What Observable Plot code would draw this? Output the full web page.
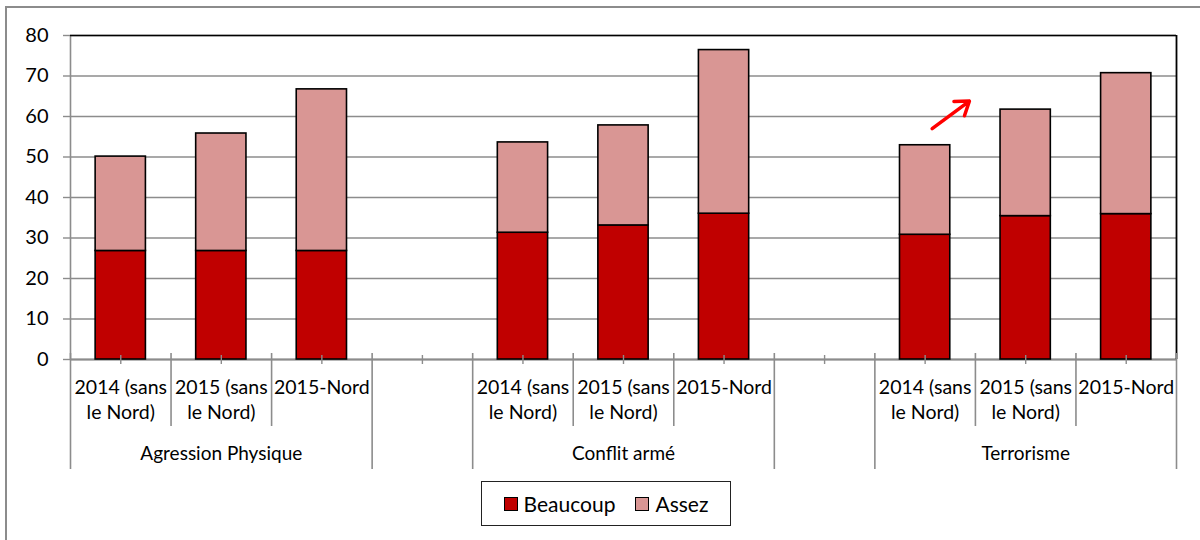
<!DOCTYPE html>
<html>
<head>
<meta charset="utf-8">
<script src="https://cdn.jsdelivr.net/npm/d3@7"></script>
<script src="https://cdn.jsdelivr.net/npm/@observablehq/plot@0.6"></script>
<style>
  html, body { margin: 0; padding: 0; background: #fff; overflow: hidden; }
  body { width: 1200px; height: 540px; position: relative; font-family: Lato, "Open Sans", sans-serif; }
  #outer { position: absolute; left: 5px; top: 6px; width: 1300px; height: 700px;
           border-left: 2px solid #8c8c8c; border-top: 2px solid #8c8c8c; }
  #chart { position: absolute; left: 0; top: 0; }
  #legend { position: absolute; left: 481px; top: 481px; width: 248px; height: 43px;
            border: 1.5px solid #222; background: #fff; display: flex; align-items: center;
            justify-content: center; gap: 20px; font-size: 21px; color: #000; }
  .item { display: flex; align-items: center; gap: 6px; }
  .sw { width: 14px; height: 14px; border: 1.5px solid #000; box-sizing: border-box; display: inline-block; }
</style>
</head>
<body>
<div id="outer"></div>
<div id="chart"></div>
<div id="legend"></div>
<script>
// ---- data ----
const groups = ["Agression Physique", "Conflit armé", "Terrorisme"];
const periodLabels = ["2014 (sans\nle Nord)", "2015 (sans\nle Nord)", "2015-Nord"];
const series = ["Beaucoup", "Assez"];
const beaucoup = [26.8, 26.8, 26.8, 31.3, 33.1, 36.0, 30.8, 35.4, 35.9];
const assez    = [23.3, 29.0, 39.9, 22.3, 24.7, 40.4, 22.1, 26.3, 34.8];
const yTicks = [0, 10, 20, 30, 40, 50, 60, 70, 80];
const colors = ["#C00000", "#D99694"];
// trend arrow annotation (in data units: slot index, value)
const arrowAnno = [{x1: 8.07, y1: 57.0, x2: 8.44, y2: 63.8}];

// ---- derived layout tables ----
const slotsPerGroup = periodLabels.length + 1; // one blank slot between groups
const nSlots = groups.length * slotsPerGroup - 1;
const rows = [];
const periodRows = [];
groups.forEach((g, gi) => {
  periodLabels.forEach((p, pi) => {
    const k = gi * periodLabels.length + pi;
    const slot = gi * slotsPerGroup + pi;
    rows.push({slot, serie: series[0], y1: 0, y2: beaucoup[k]});
    rows.push({slot, serie: series[1], y1: beaucoup[k], y2: beaucoup[k] + assez[k]});
    periodRows.push({slot, label: p});
  });
});
const groupRows = groups.map((g, gi) => ({slot: gi * slotsPerGroup + (periodLabels.length - 1) / 2, label: g}));
const centers = d3.range(nSlots);
const groupEdges = [];
const innerEdges = [];
for (let s = 0; s <= nSlots; s++) {
  const pos = s % slotsPerGroup;
  if (pos === 0 || pos === periodLabels.length || s === nSlots) groupEdges.push(s - 0.5);
  else innerEdges.push(s - 0.5);
}
const xDomain = [-0.5, nSlots - 0.5];

const gray = "#8c8c8c";
const chart = Plot.plot({
  width: 1200,
  height: 480,
  marginTop: 35,
  marginBottom: 121,
  marginLeft: 70,
  marginRight: 24,
  style: {fontFamily: "Lato, 'Open Sans', sans-serif", fontSize: "19px", color: "#000", background: "transparent"},
  x: {domain: xDomain, axis: null},
  y: {domain: [0, 80], axis: null},
  color: {domain: series, range: colors},
  marks: [
    Plot.gridY(yTicks, {stroke: gray, strokeOpacity: 1, strokeWidth: 1.4}),
    Plot.axisY(yTicks, {tickSize: 7, tickPadding: 15, stroke: gray, strokeWidth: 1.4, fontSize: 20}),
    Plot.ruleX([xDomain[0]], {stroke: gray, strokeWidth: 1.6}),
    Plot.ruleY([0], {stroke: gray, strokeWidth: 1.8}),
    Plot.ruleY([80], {stroke: "#000", strokeWidth: 1.6}),
    Plot.ruleX([xDomain[1]], {stroke: "#000", strokeWidth: 1.8}),
    Plot.rect(rows, {x1: d => d.slot - 0.25, x2: d => d.slot + 0.25, y1: "y1", y2: "y2",
                     fill: "serie", stroke: "#000", strokeWidth: 1.6}),
    // category axis ticks
    Plot.axisX(centers, {tickSize: 9, dy: -4, tickFormat: () => "", stroke: gray, strokeWidth: 1.4}),
    Plot.axisX(innerEdges, {tickSize: 73, dy: -6, tickFormat: () => "", stroke: gray, strokeWidth: 1.6}),
    Plot.axisX(groupEdges, {tickSize: 116, dy: -6, tickFormat: () => "", stroke: gray, strokeWidth: 1.6}),
    Plot.text(periodRows, {x: "slot", text: "label", frameAnchor: "bottom", dy: 16, lineAnchor: "top",
                           lineHeight: 1.3, fontSize: 19.5, fill: "#000"}),
    Plot.text(groupRows, {x: "slot", text: "label", frameAnchor: "bottom", dy: 94, lineAnchor: "middle",
                          fontSize: 19, fill: "#000"}),
    Plot.arrow(arrowAnno, {x1: "x1", y1: "y1", x2: "x2", y2: "y2", stroke: "#ff0000", strokeWidth: 3.5,
                           headLength: 14, headAngle: 70})
  ]
});
document.getElementById("chart").appendChild(chart);

const legend = document.getElementById("legend");
series.forEach((s, i) => {
  const it = document.createElement("span");
  it.className = "item";
  const sw = document.createElement("span");
  sw.className = "sw";
  sw.style.background = colors[i];
  it.appendChild(sw);
  it.appendChild(document.createTextNode(s));
  legend.appendChild(it);
});
</script>
</body>
</html>
